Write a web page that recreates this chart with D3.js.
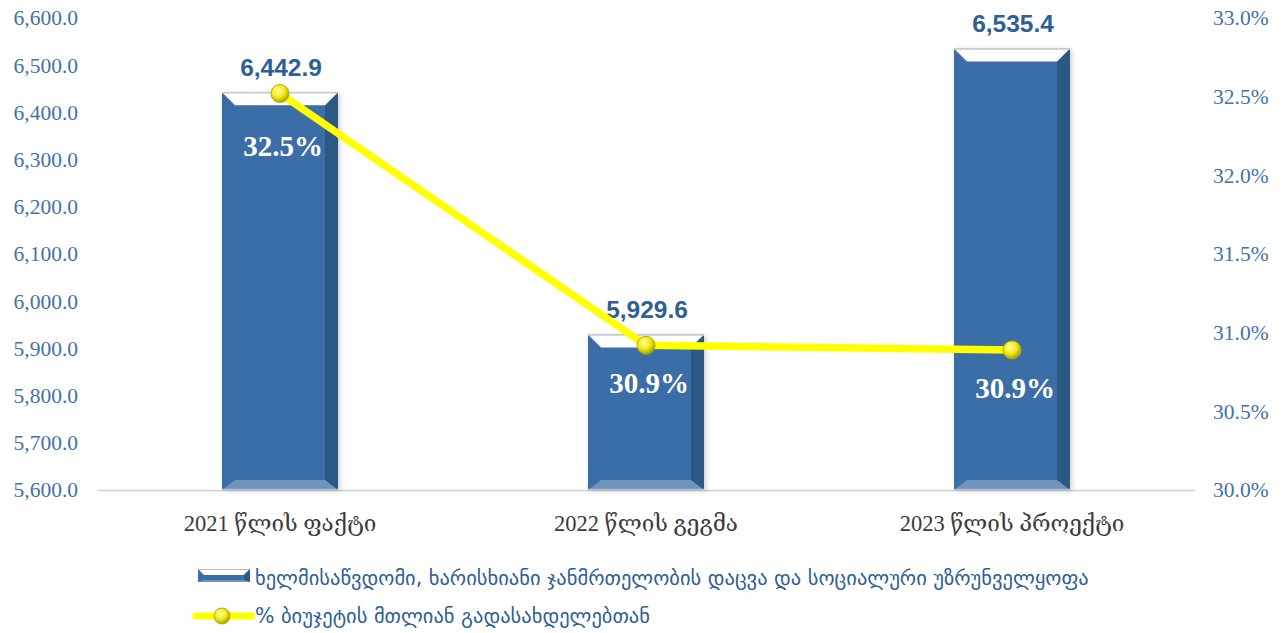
<!DOCTYPE html>
<html>
<head>
<meta charset="utf-8">
<script src="https://cdn.jsdelivr.net/npm/d3@7"></script>
<style>
  html, body { margin: 0; padding: 0; background: #fff; }
  svg { display: block; }
</style>
</head>
<body>
<svg id="chart" width="1283" height="633"></svg>
<script>
// Budget for the social protection & health program, with its share of total expenditure
const categories = ["2021 წლის ფაქტი", "2022 წლის გეგმა", "2023 წლის პროექტი"];
const amounts = [6442.9, 5929.6, 6535.4];
const shares = [32.52, 30.92, 30.89];
const leftTicks = [5600, 5700, 5800, 5900, 6000, 6100, 6200, 6300, 6400, 6500, 6600];
const rightTicks = [30.0, 30.5, 31.0, 31.5, 32.0, 32.5, 33.0];
const barLegend = "ხელმისაწვდომი, ხარისხიანი ჯანმრთელობის დაცვა და სოციალური უზრუნველყოფა";
const lineLegend = "% ბიუჯეტის მთლიან გადასახდელებთან";

const svg = d3.select("#chart");
const plot = { left: 97, right: 1195, top: 18, bottom: 490 };

const x = d3.scaleBand().domain(categories).range([plot.left, plot.right]).paddingInner(0.683).paddingOuter(0.3415);
const y = d3.scaleLinear().domain([5600, 6600]).range([plot.bottom, plot.top]);
const y2 = d3.scaleLinear().domain([30, 33]).range([plot.bottom, plot.top]);

const blue = "#3a6ea6", blueDark = "#2c5886", blueLight = "#6f93bb", labelBlue = "#2f5f95", tickBlue = "#4472a8";
const serif = "Liberation Serif, DejaVu Serif, serif";

const defs = svg.append("defs");
const shadow = defs.append("filter").attr("id", "shadow").attr("x", "-20%").attr("y", "-10%").attr("width", "140%").attr("height", "120%");
shadow.append("feDropShadow").attr("dx", 2).attr("dy", 1).attr("stdDeviation", 2.5).attr("flood-color", "#000").attr("flood-opacity", 0.18);

const ball = defs.append("radialGradient").attr("id", "ball").attr("cx", "40%").attr("cy", "35%").attr("r", "65%");
ball.append("stop").attr("offset", "0%").attr("stop-color", "#ffff9a");
ball.append("stop").attr("offset", "55%").attr("stop-color", "#f2ea1a");
ball.append("stop").attr("offset", "100%").attr("stop-color", "#a9a000");

// baseline
svg.append("line")
  .attr("x1", plot.left).attr("x2", plot.right)
  .attr("y1", y(5600) + 0.5).attr("y2", y(5600) + 0.5)
  .attr("stroke", "#d0d0d0").attr("stroke-width", 1.5);

// left axis
const leftAxis = svg.append("g").attr("transform", `translate(${plot.left - 19},0)`)
  .call(d3.axisLeft(y).tickValues(leftTicks).tickFormat(d3.format(",.1f")).tickSize(0).tickPadding(0));
leftAxis.select(".domain").remove();
leftAxis.selectAll("text").attr("font-family", serif).attr("font-size", 21.5).attr("fill", tickBlue);

// right axis
const rightAxis = svg.append("g").attr("transform", `translate(${plot.right + 18},0)`)
  .call(d3.axisRight(y2).tickValues(rightTicks).tickFormat(d => d3.format(".1f")(d) + "%").tickSize(0).tickPadding(0));
rightAxis.select(".domain").remove();
rightAxis.selectAll("text").attr("font-family", serif).attr("font-size", 21.5).attr("fill", tickBlue);

// category axis
const catAxis = svg.append("g").attr("transform", `translate(0,${plot.bottom})`)
  .call(d3.axisBottom(x).tickSize(0).tickPadding(25));
catAxis.select(".domain").remove();
catAxis.selectAll("text").attr("font-family", serif).attr("font-size", 22.5).attr("fill", "#3a3a3a");

// beveled bars
function bevelBar(g, x0, x1, y0, y1, b, bb) {
  const pts = a => a.map(p => p.join(",")).join(" ");
  g.append("rect").attr("x", x0).attr("y", y0).attr("width", x1 - x0).attr("height", y1 - y0).attr("fill", blue).attr("filter", "url(#shadow)");
  g.append("polygon").attr("points", pts([[x1, y0], [x1, y1], [x1 - b, y1 - bb], [x1 - b, y0 + b]])).attr("fill", blueDark);
  g.append("polygon").attr("points", pts([[x0, y1], [x1, y1], [x1 - b, y1 - bb], [x0 + b, y1 - bb]])).attr("fill", blueLight);
  g.append("polygon").attr("points", pts([[x0, y0], [x1, y0], [x1 - b, y0 + b], [x0 + b, y0 + b]])).attr("fill", "#ffffff");
  g.append("line").attr("x1", x0).attr("x2", x1).attr("y1", y0 + 0.5).attr("y2", y0 + 0.5).attr("stroke", "#c8c8c8").attr("stroke-width", 1.5);
  g.append("line").attr("x1", x0).attr("x2", x1).attr("y1", y1 - 0.5).attr("y2", y1 - 0.5).attr("stroke", "#a9bfd8").attr("stroke-width", 1.5);
}

const bars = svg.append("g");
categories.forEach((c, i) => {
  const x0 = x(c), x1 = x(c) + x.bandwidth();
  bevelBar(bars.append("g"), x0, x1, y(amounts[i]), y(5600), 13, 10);
});

// bar value labels
svg.append("g").selectAll("text").data(amounts).join("text")
  .attr("x", (d, i) => x(categories[i]) + x.bandwidth() / 2 + 1)
  .attr("y", d => y(d) - 16)
  .attr("text-anchor", "middle")
  .attr("font-family", "Liberation Sans, Arial, sans-serif").attr("font-weight", "bold")
  .attr("font-size", 24.5).attr("fill", labelBlue)
  .text(d => d3.format(",.1f")(d));

// share line
const cx = i => x(categories[i]) + x.bandwidth() / 2;
const line = d3.line().x((d, i) => cx(i)).y(d => y2(d));
svg.append("path").datum(shares).attr("d", line)
  .attr("fill", "none").attr("stroke", "#ffff00").attr("stroke-width", 7.5).attr("stroke-linejoin", "round");

svg.append("g").selectAll("circle").data(shares).join("circle")
  .attr("cx", (d, i) => cx(i)).attr("cy", d => y2(d)).attr("r", 9)
  .attr("fill", "url(#ball)").attr("stroke", "#b8ad00").attr("stroke-width", 1);

// share labels
svg.append("g").selectAll("text").data(shares).join("text")
  .attr("x", (d, i) => cx(i) + 3)
  .attr("y", (d, i) => y2(d) + (i === 0 ? 62 : 48))
  .attr("text-anchor", "middle")
  .attr("font-family", serif).attr("font-weight", "bold")
  .attr("font-size", 29).attr("fill", "#ffffff")
  .text(d => d3.format(".1f")(d) + "%");

// legend
const lg = svg.append("g");
const ix0 = 198, ix1 = 250, iy0 = 569, iy1 = 582;
lg.append("rect").attr("x", ix0).attr("y", iy0).attr("width", ix1 - ix0).attr("height", iy1 - iy0).attr("fill", blue);
lg.append("polygon").attr("points", `${ix0},${iy0} ${ix1},${iy0} ${ix1 - 6},${iy0 + 6} ${ix0 + 6},${iy0 + 6}`).attr("fill", "#fff");
lg.append("line").attr("x1", ix0).attr("x2", ix1).attr("y1", iy0 + 0.5).attr("y2", iy0 + 0.5).attr("stroke", "#bbb");
lg.append("polygon").attr("points", `${ix1},${iy0} ${ix1},${iy1} ${ix1 - 6},${iy1 - 2} ${ix1 - 6},${iy0 + 6}`).attr("fill", blueDark);
lg.append("polygon").attr("points", `${ix0},${iy1} ${ix1},${iy1} ${ix1 - 6},${iy1 - 2} ${ix0 + 6},${iy1 - 2}`).attr("fill", blueLight);
lg.append("text").attr("x", 255).attr("y", 585)
  .attr("font-family", "DejaVu Sans, sans-serif").attr("font-size", 20.5).attr("fill", labelBlue).text(barLegend);

lg.append("line").attr("x1", 196).attr("x2", 252).attr("y1", 616).attr("y2", 616)
  .attr("stroke", "#ffff00").attr("stroke-width", 7).attr("stroke-linecap", "round");
lg.append("circle").attr("cx", 222).attr("cy", 616).attr("r", 8)
  .attr("fill", "url(#ball)").attr("stroke", "#b8ad00");
lg.append("text").attr("x", 255).attr("y", 623)
  .attr("font-family", "DejaVu Sans, sans-serif").attr("font-size", 20.5).attr("fill", labelBlue).text(lineLegend);
</script>
</body>
</html>
